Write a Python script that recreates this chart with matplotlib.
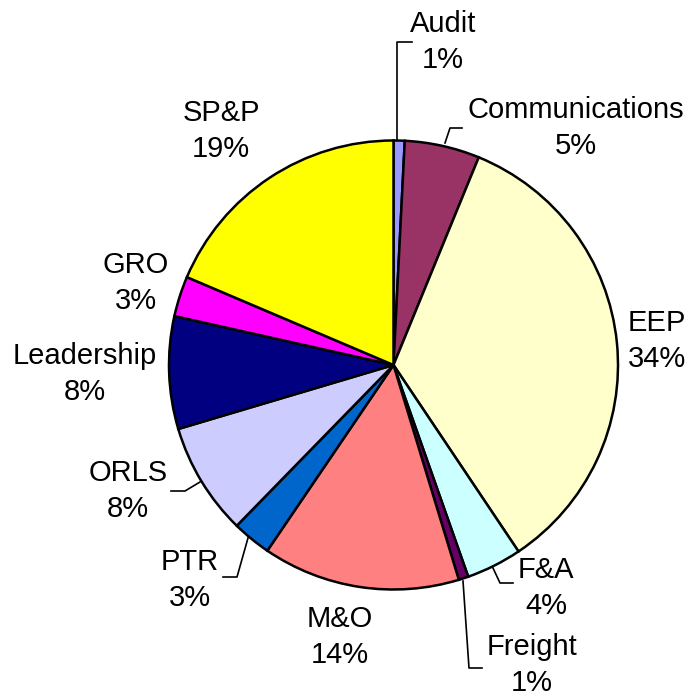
import matplotlib
matplotlib.use("Agg")
import matplotlib.pyplot as plt

categories = ["Audit", "Communications", "EEP", "F&A", "Freight", "M&O",
              "PTR", "ORLS", "Leadership", "GRO", "SP&P"]
values = [0.8, 5.4, 34.4, 4.0, 0.7, 14.2, 2.8, 8.1, 8.1, 2.9, 18.6]
colors = ["#9999FF", "#993366", "#FFFFCC", "#CCFFFF", "#660066", "#FF8080",
          "#0066CC", "#CCCCFF", "#000080", "#FF00FF", "#FFFF00"]

W, H = 689, 700
fig = plt.figure(figsize=(W / 100, H / 100), dpi=100)
ax = fig.add_axes([0, 0, 1, 1])

cx, cy, r = 393.5, H - 365, 224.5
ax.pie(values, colors=colors, startangle=90, counterclock=False,
       center=(cx, cy), radius=r, frame=True,
       wedgeprops=dict(edgecolor="black", linewidth=1.8))
ax.set_xlim(0, W)
ax.set_ylim(0, H)
ax.set_aspect("equal")
ax.axis("off")

# label positions (pixel coords from top-left)
label_pos = {
    "Audit": (443, 42), "Communications": (576, 128), "EEP": (657, 341),
    "F&A": (546, 588), "Freight": (532, 665), "M&O": (340, 637),
    "PTR": (190, 580), "ORLS": (128, 491), "Leadership": (85, 374),
    "GRO": (136, 283), "SP&P": (221, 131),
}
for cat, v in zip(categories, values):
    x, y = label_pos[cat]
    ax.text(x, H - y, f"{cat}\n{round(v)}%", ha="center", va="center",
            fontsize=21, family=["Liberation Sans", "DejaVu Sans"],
            linespacing=1.40)

leaders = [
    [(397, 140), (397, 42), (412, 42)],
    [(445, 143), (450, 128), (462, 128)],
    [(493, 568), (500, 583), (513, 583)],
    [(463, 581), (469, 668), (482, 668)],
    [(248, 538), (237, 577), (223, 577)],
    [(200, 482), (185, 491), (171, 491)],
]
for pts in leaders:
    xs = [p[0] for p in pts]
    ys = [H - p[1] for p in pts]
    ax.plot(xs, ys, color="black", linewidth=1.2)

fig.savefig("out.png", dpi=100)
